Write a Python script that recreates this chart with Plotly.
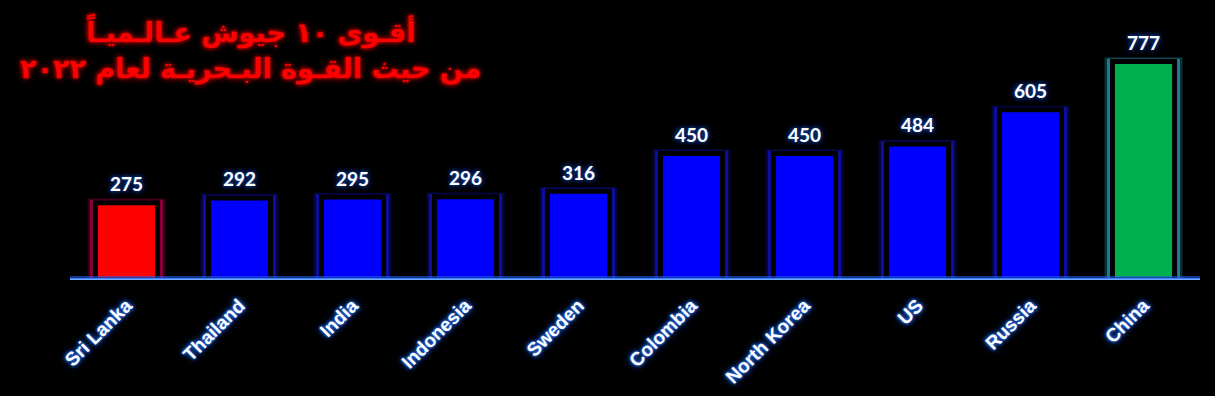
import plotly.graph_objects as go

countries = ["Sri Lanka", "Thailand", "India", "Indonesia", "Sweden",
             "Colombia", "North Korea", "US", "Russia", "China"]
values = [275, 292, 295, 296, 316, 450, 450, 484, 605, 777]
bar_colors = ["#FF0000"] + ["#0000FF"] * 8 + ["#00B050"]
glow_outer = ["rgba(200,0,90,0.25)"] + ["rgba(20,20,230,0.25)"] * 8 + ["rgba(40,170,200,0.28)"]
glow_inner = ["rgba(190,0,80,0.65)"] + ["rgba(20,20,220,0.65)"] * 8 + ["rgba(40,160,190,0.7)"]
title_lines = ["أقـوى ١٠ جيوش عـالـميـاً", "من حيث القـوة البـحريـة لعام ٢٠٢٢"]

fig = go.Figure()

# soft glow layers behind each bar
fig.add_trace(go.Bar(x=countries, y=[v + 15 for v in values], width=0.69,
                     marker=dict(color=glow_outer, line=dict(width=0)),
                     hoverinfo="skip", showlegend=False))
fig.add_trace(go.Bar(x=countries, y=[v + 10 for v in values], width=0.645,
                     marker=dict(color=glow_inner, line=dict(width=0)),
                     hoverinfo="skip", showlegend=False))
# main bars with black outline
fig.add_trace(go.Bar(x=countries, y=values, width=0.55,
                     marker=dict(color=bar_colors, line=dict(color="black", width=5)),
                     showlegend=False))

for c, v in zip(countries, values):
    fig.add_annotation(x=c, y=v, yshift=19, text=str(v), showarrow=False,
                       font=dict(family="Lato", size=19, color="white", weight="bold",
                                 shadow="0px 0px 2px #123a8a, 0px 0px 4px #123a8a, 0px 0px 6px #0d2a6e, 0px 0px 8px #0d2a6e"))

fig.add_shape(type="line", xref="paper", yref="y", x0=0, x1=1, y0=0, y1=0,
              line=dict(color="rgba(30,90,230,0.6)", width=8), layer="above")
fig.add_shape(type="line", xref="paper", yref="y", x0=0, x1=1, y0=0, y1=0,
              line=dict(color="#3b7dff", width=4), layer="above")
fig.add_shape(type="line", xref="paper", yref="y", x0=0, x1=1, y0=0, y1=0,
              line=dict(color="#8ab8ff", width=1.5), layer="above")

title_shadow = ("0px 0px 2px #900000, 0px 0px 2px #900000, 0px 0px 3px #8b0000, "
                "0px 0px 4px #8b0000, 0px 0px 6px #700000, 0px 0px 8px #500000")
for line, ypix in zip(title_lines, [31, 69]):
    fig.add_annotation(xref="paper", yref="paper", x=(250 - 70) / 1130, y=1 + (55 - ypix) / 225,
                       text=line, showarrow=False, xanchor="center", yanchor="middle",
                       font=dict(family="DejaVu Sans", size=27, color="#FF0000", weight="bold",
                                 shadow=title_shadow))

fig.update_layout(
    width=1215, height=396,
    paper_bgcolor="black", plot_bgcolor="black",
    margin=dict(l=70, r=15, t=55, b=116),
    barmode="overlay", bargap=0.4,
    xaxis=dict(showgrid=False, showline=False, zeroline=False, tickangle=-45,
               automargin=False,
               ticks="outside", ticklen=6, tickcolor="rgba(0,0,0,0)",
               tickfont=dict(family="Liberation Sans", size=19, color="white", weight="bold",
                             shadow="0px 0px 2px #2a6ae0, 0px 0px 3px #2a6ae0, 0px 0px 5px #2060d0, 0px 0px 8px #1040a0")),
    yaxis=dict(visible=False, range=[0, 800], automargin=False),
)

fig.write_html("out.html")
